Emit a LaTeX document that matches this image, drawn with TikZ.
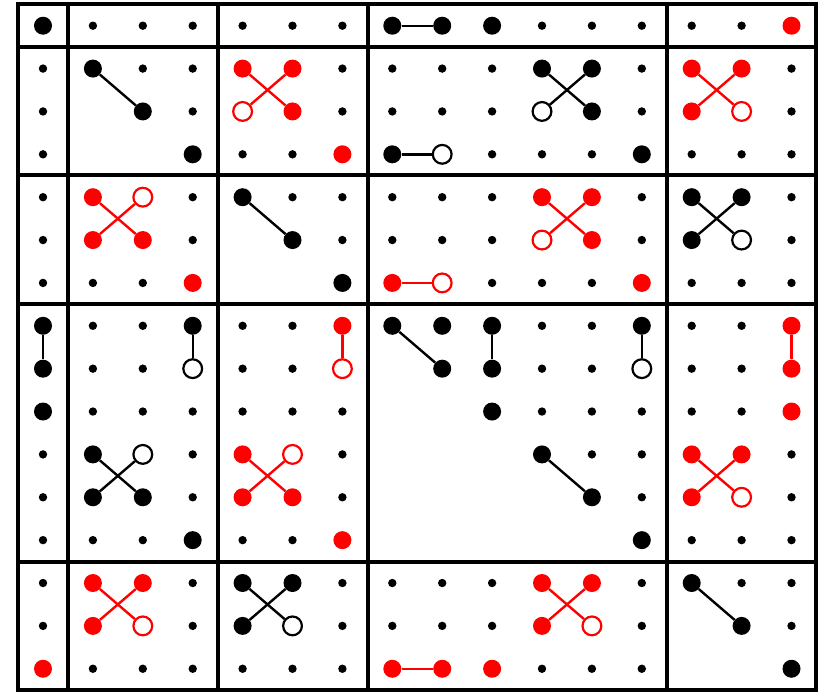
\documentclass[tikz,border=0pt]{standalone}
\begin{document}
\begin{tikzpicture}[x=1pt,y=-1pt,
  sdot/.style={circle, fill=black, inner sep=0pt, minimum size=8.4pt},
  bdot/.style={circle, fill=black, inner sep=0pt, minimum size=18pt},
  rdot/.style={circle, fill=red, inner sep=0pt, minimum size=18pt},
  odot/.style={circle, draw=black, fill=white, line width=2.2pt, inner sep=0pt, minimum size=18.8pt},
  ordot/.style={circle, draw=red, fill=white, line width=2.2pt, inner sep=0pt, minimum size=18.8pt},
  bline/.style={draw=black, line width=2.4pt},
  rline/.style={draw=red, line width=2.4pt},
  frame/.style={draw=black, line width=4pt}]
\fill[white] (0,0) rectangle (821,691);
\useasboundingbox (0,0) rectangle (821,691);
% frame
\draw[frame] (17.6,4.3) rectangle (815.6,689.8);
\foreach \xx in {67.5,217.8,367.8,666.5} \draw[frame] (\xx,4.3) -- (\xx,689.8);
\foreach \yy in {47.2,175.4,304.3,561.5} \draw[frame] (17.6,\yy) -- (815.6,\yy);
% small dots
\foreach \r/\cl in {0/{1,2,3,4,5,6,10,11,12,13,14},
  1/{0,2,3,6,7,8,9,12,15}, 2/{0,3,6,7,8,9,12,15}, 3/{0,4,5,9,10,11,13,14,15},
  4/{0,3,5,6,7,8,9,12,15}, 5/{0,3,6,7,8,9,12,15}, 6/{0,1,2,9,10,11,13,14,15},
  7/{1,2,4,5,10,11,13,14}, 8/{1,2,4,5,10,11,13,14}, 9/{1,2,3,4,5,6,10,11,12,13,14},
  10/{0,3,6,11,12,15}, 11/{0,3,6,12,15}, 12/{0,1,2,4,5,13,14,15},
  13/{0,3,6,7,8,9,12,14,15}, 14/{0,3,6,7,8,9,12,15}, 15/{1,2,3,4,5,6,10,11,12}}
  \foreach \c in \cl \node[sdot] (n\r-\c) at ({43+49.9*\c},{25.7+42.87*\r}) {};
% big black dots
\foreach \r/\cl in {0/{0,7,8,9}, 1/{1,10,11}, 2/{2,11}, 3/{3,7,12}, 4/{4,13,14},
  5/{5,13}, 6/{6}, 7/{0,3,7,8,9,12}, 8/{0,8,9}, 9/{0,9}, 10/{1,10}, 11/{1,2,11},
  12/{3,12}, 13/{4,5,13}, 14/{4,14}, 15/{15}}
  \foreach \c in \cl \node[bdot] (n\r-\c) at ({43+49.9*\c},{25.7+42.87*\r}) {};
% big red dots
\foreach \r/\cl in {0/{15}, 1/{4,5,13,14}, 2/{5,13}, 3/{6}, 4/{1,10,11}, 5/{1,2,11},
  6/{3,7,12}, 7/{6,15}, 8/{15}, 9/{15}, 10/{4,13,14}, 11/{4,5,13}, 12/{6},
  13/{1,2,10,11}, 14/{1,10}, 15/{0,7,8,9}}
  \foreach \c in \cl \node[rdot] (n\r-\c) at ({43+49.9*\c},{25.7+42.87*\r}) {};
% open black circles
\foreach \r/\c in {2/10, 3/8, 5/14, 8/3, 8/12, 10/2, 14/5}
  \node[odot] (n\r-\c) at ({43+49.9*\c},{25.7+42.87*\r}) {};
% open red circles
\foreach \r/\c in {2/4, 2/14, 4/2, 5/10, 6/8, 8/6, 10/5, 11/14, 14/2, 14/11}
  \node[ordot] (n\r-\c) at ({43+49.9*\c},{25.7+42.87*\r}) {};
% black connectors
\foreach \a/\b in {0-7/0-8, 1-1/2-2, 1-10/2-11, 1-11/2-10, 3-7/3-8, 4-4/5-5,
  4-13/5-14, 4-14/5-13, 7-0/8-0, 7-3/8-3, 10-1/11-2, 10-2/11-1, 7-7/8-8,
  7-9/8-9, 7-12/8-12, 10-10/11-11, 13-4/14-5, 13-5/14-4, 13-13/14-14}
  \draw[bline] (n\a) -- (n\b);
% red connectors
\foreach \a/\b in {1-4/2-5, 1-5/2-4, 1-13/2-14, 1-14/2-13, 4-1/5-2, 4-2/5-1,
  4-10/5-11, 4-11/5-10, 6-7/6-8, 7-6/8-6, 10-4/11-5, 10-5/11-4, 7-15/8-15,
  10-13/11-14, 10-14/11-13, 13-1/14-2, 13-2/14-1, 13-10/14-11, 13-11/14-10, 15-7/15-8}
  \draw[rline] (n\a) -- (n\b);
\end{tikzpicture}
\end{document}
